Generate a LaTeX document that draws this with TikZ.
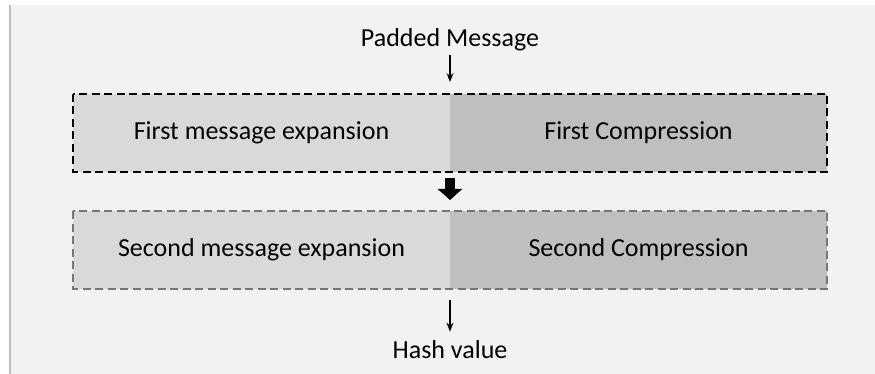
\documentclass[tikz,border=0pt]{standalone}
\usepackage{fontspec}
\setmainfont{Carlito}
\usetikzlibrary{arrows.meta,calc,positioning}
\definecolor{HashBack}{RGB}{242,242,242}
\definecolor{HashEdge}{RGB}{191,191,191}
\definecolor{HashLight}{RGB}{217,217,217}
\definecolor{HashDark}{RGB}{191,191,191}
\definecolor{HashGray}{RGB}{118,118,118}

\begin{document}
\begin{tikzpicture}[x=1pt,y=-1pt,>={Stealth[length=9pt,width=7pt]}]
        \tikzset{half/.style={minimum width=377pt,minimum height=78pt,inner sep=0pt,outer sep=0pt,font=\fontsize{26}{30}\selectfont},lbl/.style={inner sep=0pt,font=\fontsize{26}{30}\selectfont},frame/.style={dash pattern=on 8pt off 4.5pt,line width=1.3pt}}
        \useasboundingbox (0,0) rectangle (875,374);
        \fill[white] (0,0) rectangle (875,374);
        \fill[HashBack] (10,5) rectangle (875,374);
        \draw[HashEdge,line width=1.5pt] (10,5) -- (10,374);
        \node[half,fill=HashLight] (exp1) at (261.5,133) {First message expansion};
        \node[half,fill=HashDark,right=0pt of exp1] (comp1) {First Compression};
        \node[half,fill=HashLight] (exp2) at (261.5,250) {Second message expansion};
        \node[half,fill=HashDark,right=0pt of exp2] (comp2) {Second Compression};
        \draw[frame,black] (exp1.north west) rectangle (comp1.south east);
        \draw[frame,HashGray] (exp2.north west) rectangle (comp2.south east);
        \node[lbl] (msg) at (450,40) {Padded Message};
        \node[lbl] (hash) at (450,350) {Hash value};
        \draw[->,line width=1.2pt,shorten <=4pt,shorten >=12pt] (msg) -- (exp1.north east);
        \draw[line width=10pt,-{Triangle[width=24pt,length=11pt]},shorten <=6pt,shorten >=11pt] (exp1.south east) -- (exp2.north east);
        \draw[->,line width=1.2pt,shorten <=11pt,shorten >=9pt] (exp2.south east) -- (hash);
      \end{tikzpicture}
\end{document}
